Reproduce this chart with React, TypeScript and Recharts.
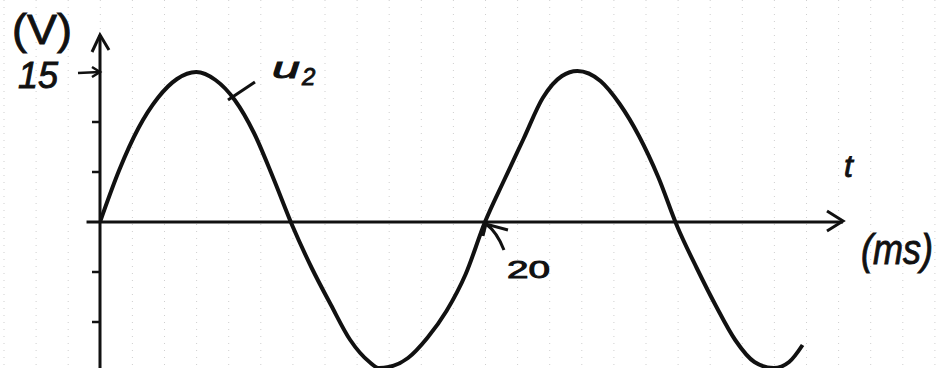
import { LineChart, Line, XAxis, YAxis, CartesianGrid, ReferenceLine, ReferenceDot } from 'recharts';

// u2(t) sampled along the drawn curve
const timeMs = [0, 1, 2, 3, 4, 5, 6, 7, 8, 9, 10, 11, 12, 13, 14, 14.5, 15, 16, 17, 18, 19, 20, 21, 22, 23, 24, 24.8, 26, 27, 28, 29, 30, 31, 32, 33, 34, 35, 35.8, 36.5];
const voltage = [0, 5.2, 9.4, 12.4, 14.3, 15, 14.2, 12.2, 8.9, 4.4, -0.4, -4.6, -8.3, -11.8, -14.0, -14.6, -14.5, -13.6, -11.6, -8.9, -5.2, 0, 4.2, 8.3, 12.4, 14.6, 15.1, 14.1, 11.8, 8.6, 4.5, -0.5, -4.6, -8.4, -11.8, -14.0, -14.6, -14.0, -12.3];

const yTicks = [-10, -5, 5, 10, 15];
const peakValue = 15;
const markedTime = 20;
const curveName = 'u';
const curveIndex = '2';
const yUnit = '(V)';
const xName = 't';
const xUnit = '(ms)';

const data = timeMs.map((t, i) => ({ t, v: voltage[i] }));

const W = 948;
const H = 368;
const INK = '#111';
const HAND = '"Liberation Sans", Arial, sans-serif';

// pen-like text: fill plus a thin outline to thicken the strokes
const pen = { fill: INK, stroke: INK, strokeWidth: 0.9, fontFamily: HAND };

// faint dotted paper grid
const gridX: number[] = [];
for (let x = 4; x < W; x += 32.1) gridX.push(x);

function YTick(props: any) {
  const { x, y, payload } = props;
  if (payload.value === peakValue) {
    return (
      <g>
        <path d={`M${x - 22},${y + 1} L${x},${y}`} stroke={INK} strokeWidth={2.5} fill="none" />
        <path d={`M${x - 8},${y - 5} L${x},${y} L${x - 8},${y + 5}`} stroke={INK} strokeWidth={2.5} fill="none" />
        <text x={x - 82} y={y + 16} fontSize={36} fontStyle="italic" {...pen}>
          {peakValue}
        </text>
      </g>
    );
  }
  return <line x1={x - 8} y1={y} x2={x} y2={y} stroke={INK} strokeWidth={2.5} />;
}

function YAxisArrow(p: any) {
  const { x1, y1, y2 } = p;
  const top = Math.min(y1, y2);
  const bottom = Math.max(y1, y2);
  return (
    <g>
      <line x1={x1} y1={bottom} x2={x1} y2={top} stroke={INK} strokeWidth={3} />
      <path d={`M${x1 - 8},${top + 17} L${x1},${top} L${x1 + 9},${top + 15}`} stroke={INK} strokeWidth={3} fill="none" />
      <text x={x1 - 88} y={top + 9} fontSize={42} textLength={60} lengthAdjust="spacingAndGlyphs" {...pen}>
        {yUnit}
      </text>
    </g>
  );
}

function XAxisArrow(p: any) {
  const { x1, y1, x2, y2 } = p;
  return (
    <g>
      <line x1={x1} y1={y1} x2={x2} y2={y2} stroke={INK} strokeWidth={3} />
      <path d={`M${x2 - 16},${y2 - 11} L${x2},${y2 - 1} L${x2 - 16},${y2 + 9}`} stroke={INK} strokeWidth={3} fill="none" />
      <text x={x2 + 1} y={y2 - 45} fontSize={32} fontStyle="italic" {...pen}>
        {xName}
      </text>
      <text x={x2 + 18} y={y2 + 42} fontSize={42} fontStyle="italic" textLength={72} lengthAdjust="spacingAndGlyphs" {...pen}>
        {xUnit}
      </text>
    </g>
  );
}

function CrossingMark(p: any) {
  const { cx, cy } = p;
  return (
    <g>
      <path d={`M${cx + 19},${cy + 28} Q${cx + 12},${cy + 10} ${cx + 1},${cy + 2}`} stroke={INK} strokeWidth={3} fill="none" />
      <path d={`M${cx + 23},${cy + 8} L${cx + 1},${cy + 2} L${cx - 2},${cy + 14}`} stroke={INK} strokeWidth={3} fill="none" />
      <text x={cx + 22} y={cy + 56} fontSize={23} textLength={43} lengthAdjust="spacingAndGlyphs" {...pen}>
        {markedTime}
      </text>
    </g>
  );
}

function NameLeader(p: any) {
  const { x1, y1, x2, y2 } = p;
  return (
    <g>
      <line x1={x1} y1={y1} x2={x2} y2={y2} stroke={INK} strokeWidth={3} />
      <text x={x2 + 17} y={y2 - 4} fontSize={30} fontStyle="italic" textLength={28} lengthAdjust="spacingAndGlyphs" {...pen}>
        {curveName}
      </text>
      <text x={x2 + 47} y={y2 + 3} fontSize={24} fontStyle="italic" {...pen}>
        {curveIndex}
      </text>
    </g>
  );
}

export default function App() {
  return (
    <div style={{ position: 'absolute', left: 0, top: 0, width: W, height: H, background: '#fff' }}>
      <LineChart width={W} height={H} data={data} margin={{ top: 35, right: 105, bottom: 0, left: 0 }}>
        <CartesianGrid
          x={0}
          y={0}
          width={W}
          height={H}
          horizontal={false}
          verticalPoints={gridX}
          stroke="#cfcfcf"
          strokeDasharray="1 6"
        />
        <XAxis dataKey="t" type="number" domain={[0, 38.6]} allowDataOverflow hide />
        <YAxis
          type="number"
          domain={[-14.6, 18.7]}
          allowDataOverflow
          width={100}
          ticks={yTicks}
          interval={0}
          axisLine={false}
          tickLine={false}
          tickSize={0}
          tickMargin={0}
          tick={<YTick />}
        />
        <ReferenceLine
          segment={[{ x: 0, y: -14.6 }, { x: 0, y: 18.7 }]}
          ifOverflow="visible"
          shape={YAxisArrow}
        />
        <ReferenceLine
          segment={[{ x: -0.7, y: 0 }, { x: 38.6, y: 0 }]}
          ifOverflow="visible"
          shape={XAxisArrow}
        />
        <ReferenceLine
          segment={[{ x: 6.65, y: 12.2 }, { x: 8.05, y: 14.0 }]}
          ifOverflow="visible"
          shape={NameLeader}
        />
        <Line
          type="monotone"
          dataKey="v"
          stroke={INK}
          strokeWidth={4}
          dot={false}
          isAnimationActive={false}
        />
        <ReferenceDot x={markedTime} y={0} r={0} ifOverflow="visible" shape={CrossingMark} />
      </LineChart>
    </div>
  );
}
